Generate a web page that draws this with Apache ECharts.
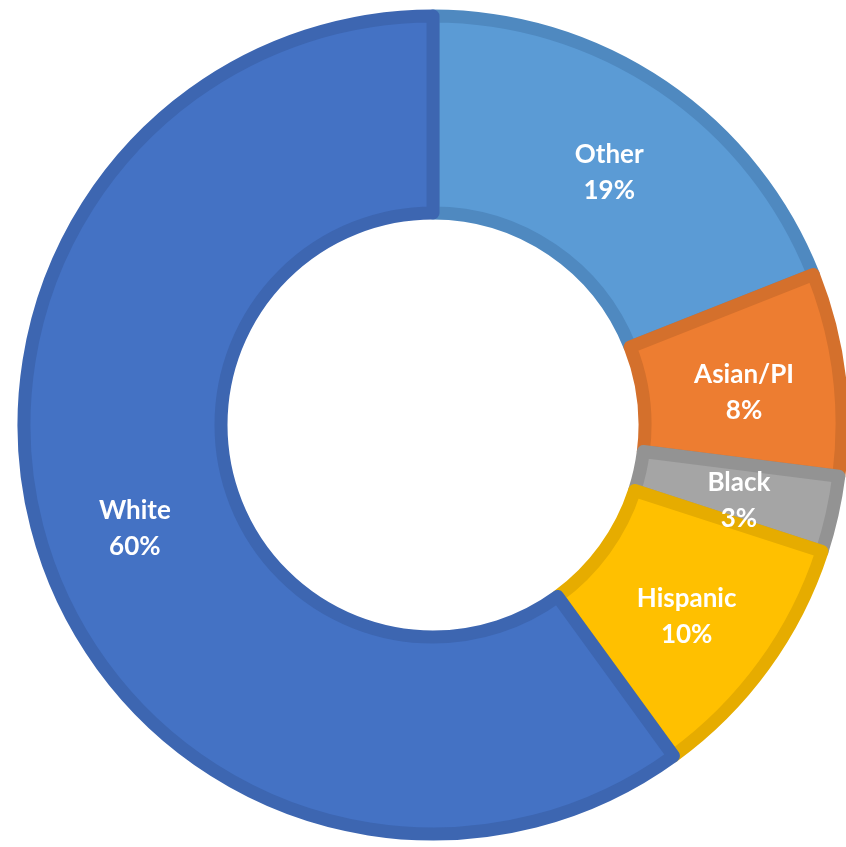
<!DOCTYPE html>
<html>
<head>
<meta charset="utf-8">
<script src="https://cdn.jsdelivr.net/npm/echarts@6/dist/echarts.min.js"></script>
<style>
  html, body { margin: 0; padding: 0; background: #fff; }
  #donutChart { width: 846px; height: 847px; }
</style>
</head>
<body>
<div id="donutChart"></div>
<script>
// 数据
const categories = ['Other', 'Asian/PI', 'Black', 'Hispanic', 'White'];
const shares = [19, 8, 3, 10, 60];
const fillColors = ['#5B9BD5', '#ED7D31', '#A5A5A5', '#FFC000', '#4472C4'];
const edgeColors = ['#4F89C0', '#D4702C', '#939393', '#E6AC00', '#3D66B1'];

const myChart = echarts.init(document.getElementById('donutChart'));

const option = {
  animation: false,
  series: [{
    type: 'pie',
    center: [433, 425],
    radius: [212, 409],
    startAngle: 90,
    clockwise: true,
    avoidLabelOverlap: false,
    label: {
      show: true,
      position: 'inside',
      formatter: '{b}\n{c}%',
      color: '#fff',
      fontFamily: 'Lato',
      fontWeight: 'bold',
      fontSize: 26,
      lineHeight: 36,
      offset: [0, 7]
    },
    labelLine: { show: false },
    emphasis: { disabled: true },
    data: categories.map((name, i) => ({
      name: name,
      value: shares[i],
      itemStyle: {
        color: fillColors[i],
        borderColor: edgeColors[i],
        borderWidth: 13
      }
    }))
  }]
};

myChart.setOption(option);
</script>
</body>
</html>
